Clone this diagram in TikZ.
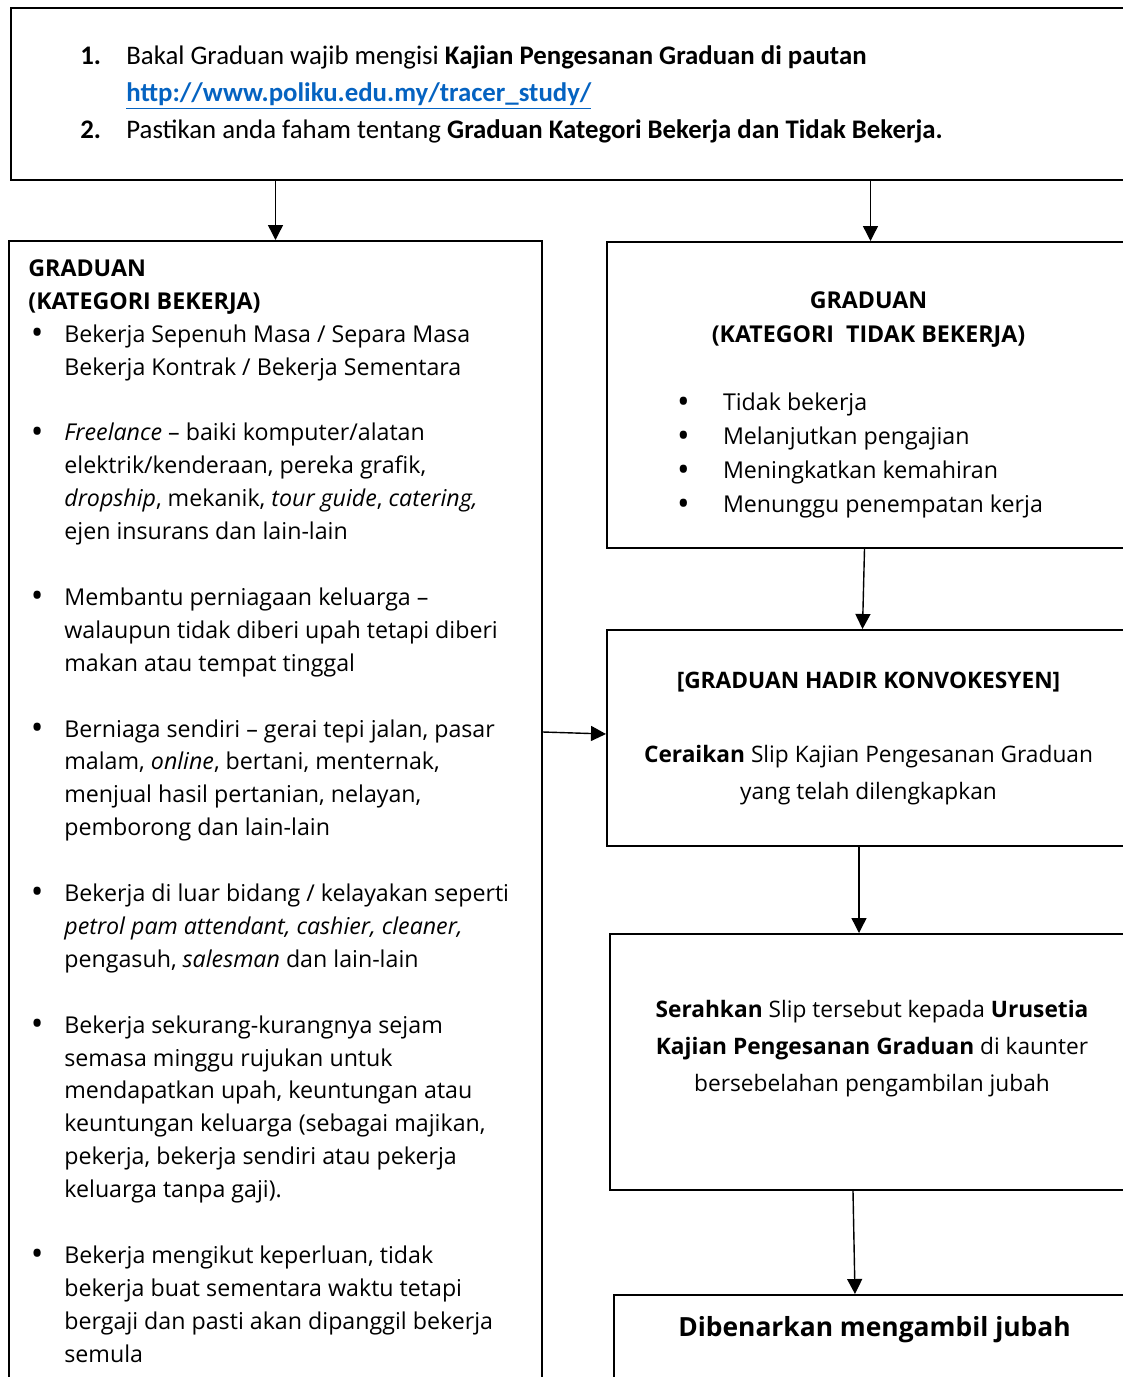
\documentclass[tikz,border=0pt]{standalone}
\usepackage{fontspec}
\setmainfont{Open Sans}
\newfontfamily\calibri{Carlito}
\usepackage{xcolor}
\usetikzlibrary{arrows.meta,positioning}
\definecolor{birupautan}{HTML}{0563C1}
\tikzset{
    kotak/.style={rectangle, draw=black, line width=1pt, inner sep=0pt},
    teks/.style={inner sep=0pt, font=\fontsize{11.6pt}{16.45pt}\selectfont},
    anak/.style={-{Triangle[length=7.5pt,width=7.5pt]}, line width=0.7pt}
}
\newcommand{\titik}{\raisebox{-0.1em}{\scalebox{1.45}{\textbullet}}}
\newcommand{\bul}{\hspace{1.2pt}\titik}

\begin{document}
\begin{tikzpicture}[x=0.5pt, y=-0.5pt]
    \useasboundingbox (0,0) rectangle (1123,1377);
    \clip (0,0) rectangle (1123,1377);
    % kotak-kotak
    \node[kotak, anchor=north west, minimum width=565pt, minimum height=86pt] (pautan) at (10,7) {};
    \node[kotak, anchor=north west, minimum width=266.5pt, minimum height=600pt] (bekerja) at (8,240) {};
    \node[kotak, anchor=north west, minimum width=261.5pt, minimum height=153pt] (tidak) at (606,241) {};
    \node[kotak, anchor=north west, minimum width=261.5pt, minimum height=108pt] (hadir) at (606,629) {};
    \node[kotak, anchor=north west, minimum width=262pt, minimum height=128pt] (serahkan) at (609,933) {};
    \node[kotak, anchor=north west, minimum width=260.5pt, minimum height=100pt] (jubah) at (613,1294) {};
    % teks
    \node[teks, font=\calibri\fontsize{13.4pt}{18.5pt}\selectfont, right=35pt of pautan.west] (pautanteks) {%
        \begin{tabular}{@{}p{23pt}@{}l@{}}
        \textbf{1.} & Bakal Graduan wajib mengisi \textbf{Kajian Pengesanan Graduan di pautan}\\
        & \textcolor{birupautan}{\textbf{\underline{http://www.poliku.edu.my/tracer\_study/}}}\\
        \textbf{2.} & Pastikan anda faham tentang \textbf{Graduan Kategori Bekerja dan Tidak Bekerja.}
        \end{tabular}};
    \node[teks, below right=6.5pt and 10pt of bekerja.north west] (bekerjateks) {%
        \begin{tabular}{@{}p{18pt}@{}l@{}}
        \multicolumn{2}{@{}l@{}}{\textbf{GRADUAN}}\\
        \multicolumn{2}{@{}l@{}}{\textbf{(KATEGORI BEKERJA)}}\\
        \bul & Bekerja Sepenuh Masa / Separa Masa\\
        & Bekerja Kontrak / Bekerja Sementara\\
        \\
        \bul & \textit{Freelance} – baiki komputer/alatan\\
        & elektrik/kenderaan, pereka grafik,\\
        & \textit{dropship}, mekanik, \textit{tour guide}, \textit{catering,}\\
        & ejen insurans dan lain-lain\\
        \\
        \bul & Membantu perniagaan keluarga –\\
        & walaupun tidak diberi upah tetapi diberi\\
        & makan atau tempat tinggal\\
        \\
        \bul & Berniaga sendiri – gerai tepi jalan, pasar\\
        & malam, \textit{online}, bertani, menternak,\\
        & menjual hasil pertanian, nelayan,\\
        & pemborong dan lain-lain\\
        \\
        \bul & Bekerja di luar bidang / kelayakan seperti\\
        & \textit{petrol pam attendant, cashier, cleaner,}\\
        & pengasuh, \textit{salesman} dan lain-lain\\
        \\
        \bul & Bekerja sekurang-kurangnya sejam\\
        & semasa minggu rujukan untuk\\
        & mendapatkan upah, keuntungan atau\\
        & keuntungan keluarga (sebagai majikan,\\
        & pekerja, bekerja sendiri atau pekerja\\
        & keluarga tanpa gaji).\\
        \\
        \bul & Bekerja mengikut keperluan, tidak\\
        & bekerja buat sementara waktu tetapi\\
        & bergaji dan pasti akan dipanggil bekerja\\
        & semula
        \end{tabular}};
    \node[teks, font=\fontsize{11.6pt}{17pt}\selectfont] (tidakteks) at ([yshift=-4.5pt]tidak.center) {%
        \begin{tabular}{@{}p{58pt}@{}p{203.5pt}@{}}
        \multicolumn{2}{@{}c@{}}{\textbf{GRADUAN}}\\
        \multicolumn{2}{@{}c@{}}{\textbf{(KATEGORI\ \ TIDAK BEKERJA)}}\\
        \\
        \hspace{35pt}\titik & Tidak bekerja\\
        \hspace{35pt}\titik & Melanjutkan pengajian\\
        \hspace{35pt}\titik & Meningkatkan kemahiran\\
        \hspace{35pt}\titik & Menunggu penempatan kerja
        \end{tabular}};
    \node[teks, font=\fontsize{11.35pt}{18.5pt}\selectfont, align=center] (hadirteks) at (hadir.center) {%
        \textbf{[GRADUAN HADIR KONVOKESYEN]}\\[18.5pt]
        \textbf{Ceraikan} Slip Kajian Pengesanan Graduan\\
        yang telah dilengkapkan};
    \node[teks, font=\fontsize{11.35pt}{18.5pt}\selectfont, align=center] (serahkanteks) at ([yshift=6.5pt]serahkan.center) {%
        \textbf{Serahkan} Slip tersebut kepada \textbf{Urusetia}\\
        \textbf{Kajian Pengesanan Graduan} di kaunter\\
        bersebelahan pengambilan jubah};
    \node[teks, font=\bfseries\fontsize{13.2pt}{17pt}\selectfont] (jubahteks) at ([yshift=-18pt]jubah.north) {Dibenarkan mengambil jubah};
    % anak panah
    \draw[anak] (pautan.south -| bekerja.north) -- (bekerja.north);
    \draw[anak] ([xshift=1pt]pautan.south -| tidak.north) -- ([xshift=1pt]tidak.north);
    \draw[anak] ([xshift=-2pt]tidak.south) -- ([xshift=-3pt]hadir.north);
    \draw[anak] ([xshift=-4.75pt]hadir.south) -- ([xshift=-6.5pt]serahkan.north);
    \draw[anak] ([xshift=-9.5pt]serahkan.south) -- ([xshift=-9.75pt]jubah.north);
    \draw[anak] ([yshift=3pt]bekerja.east |- hadir.west) -- ([yshift=2pt]hadir.west);
\end{tikzpicture}
\end{document}
